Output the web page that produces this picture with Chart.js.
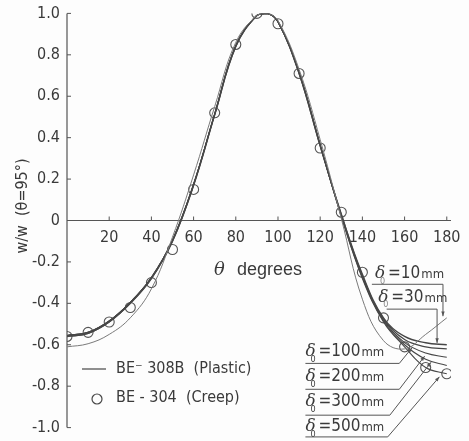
<!DOCTYPE html>
<html>
<head>
<meta charset="utf-8">
<script src="https://cdn.jsdelivr.net/npm/chart.js@4"></script>
<style>
  html, body { margin: 0; padding: 0; background: #fdfdfd; }
  #wrap { width: 469px; height: 441px; }
</style>
</head>
<body>
<div id="wrap"><canvas id="chart" width="469" height="441"></canvas></div>
<script>
// theta positions (degrees) for the plastic curves
const thetaLine = [0, 10, 20, 30, 40, 50, 60, 70, 80, 90, 95, 100, 110, 120, 130, 140, 150, 160, 170, 180];
// BE-308B (Plastic), one curve per delta0
const plastic10  = [-0.61, -0.595, -0.55, -0.47, -0.33, -0.08, 0.22, 0.55, 0.86, 0.99, 1.0, 0.965, 0.73, 0.39, 0.01, -0.38, -0.58, -0.62, -0.55, -0.47];
const plastic30  = [-0.56, -0.545, -0.49, -0.40, -0.28, -0.10, 0.17, 0.51, 0.84, 0.99, 1.0, 0.96, 0.71, 0.36, 0.03, -0.26, -0.47, -0.56, -0.59, -0.60];
const plastic100 = [-0.56, -0.545, -0.49, -0.40, -0.28, -0.10, 0.17, 0.51, 0.84, 0.99, 1.0, 0.96, 0.71, 0.36, 0.03, -0.265, -0.475, -0.575, -0.61, -0.62];
const plastic200 = [-0.555, -0.54, -0.485, -0.395, -0.275, -0.095, 0.175, 0.515, 0.845, 0.99, 1.0, 0.96, 0.715, 0.365, 0.025, -0.27, -0.48, -0.59, -0.64, -0.66];
const plastic300 = [-0.555, -0.54, -0.485, -0.395, -0.275, -0.095, 0.175, 0.515, 0.845, 0.99, 1.0, 0.96, 0.715, 0.365, 0.02, -0.275, -0.485, -0.60, -0.67, -0.70];
const plastic500 = [-0.555, -0.54, -0.485, -0.395, -0.275, -0.095, 0.175, 0.515, 0.845, 0.99, 1.0, 0.96, 0.715, 0.365, 0.02, -0.28, -0.49, -0.61, -0.71, -0.74];

// BE-304 (Creep) circles
const thetaCreep = [0, 10, 20, 30, 40, 50, 60, 70, 80, 90, 100, 110, 120, 130, 140, 150, 160, 170, 180];
const creep = [-0.56, -0.54, -0.49, -0.42, -0.30, -0.14, 0.15, 0.52, 0.85, 1.0, 0.95, 0.71, 0.35, 0.04, -0.25, -0.47, -0.61, -0.71, -0.74];

// axis ticks
const xTicks = [20, 40, 60, 80, 100, 120, 140, 160, 180];
const yTicks = [1.0, 0.8, 0.6, 0.4, 0.2, 0, -0.2, -0.4, -0.6, -0.8, -1.0];

// delta0 labels: text, text anchor [theta, value], leader path in data coords
const deltaLabels = [
  { mm: '10',  at: [146, -0.255], path: [[144.5, -0.308], [178.2, -0.308], [178.2, -0.462]], light: true },
  { mm: '30',  at: [147.5, -0.37], path: [[151.5, -0.428], [175.4, -0.428], [175.4, -0.591]], light: true },
  { mm: '100', at: [113, -0.635], path: [[113, -0.69], [157.5, -0.69], [163.5, -0.615]] },
  { mm: '200', at: [113, -0.755], path: [[113, -0.815], [157.5, -0.815], [169.5, -0.655]] },
  { mm: '300', at: [113, -0.875], path: [[113, -0.94], [153, -0.94], [172.5, -0.685]] },
  { mm: '500', at: [113, -0.995], path: [[113, -1.045], [152, -1.045], [176.5, -0.755]] }
];

const INK = '#474747';
const TEXT = '#3a3a3a';
const NARROW = '"Liberation Sans Narrow", "DejaVu Sans Condensed", "Liberation Sans", sans-serif';

function toXY(xs, ys) {
  return xs.map((x, i) => ({ x: x, y: ys[i] }));
}

function lineSet(label, ys, color, width) {
  return {
    label: label,
    data: toXY(thetaLine, ys),
    borderColor: color,
    borderWidth: width,
    pointRadius: 0,
    tension: 0.4,
    fill: false
  };
}

function arrowHead(ctx, x0, y0, x1, y1) {
  const a = Math.atan2(y1 - y0, x1 - x0);
  const s = 5;
  ctx.beginPath();
  ctx.moveTo(x1, y1);
  ctx.lineTo(x1 - s * Math.cos(a - 0.35), y1 - s * Math.sin(a - 0.35));
  ctx.lineTo(x1 - s * Math.cos(a + 0.35), y1 - s * Math.sin(a + 0.35));
  ctx.closePath();
  ctx.fill();
}

const decorPlugin = {
  id: 'decor',
  beforeDraw(chart) {
    const ctx = chart.ctx;
    ctx.save();
    ctx.fillStyle = '#fdfdfd';
    ctx.fillRect(0, 0, chart.width, chart.height);
    ctx.restore();
  },
  beforeDatasetsDraw(chart) {
    const { ctx, scales: { x, y }, chartArea } = chart;
    const x0 = x.getPixelForValue(0);
    const y0 = y.getPixelForValue(0);
    ctx.save();
    ctx.strokeStyle = '#555';
    ctx.lineWidth = 1.2;
    // axes
    ctx.beginPath();
    ctx.moveTo(x0, chartArea.top);
    ctx.lineTo(x0, chartArea.bottom);
    ctx.moveTo(x0, y0);
    ctx.lineTo(chartArea.right, y0);
    ctx.stroke();
    // inward tick marks
    ctx.lineWidth = 1;
    ctx.beginPath();
    yTicks.forEach(v => {
      const py = y.getPixelForValue(v);
      ctx.moveTo(x0, py);
      ctx.lineTo(x0 + 4, py);
    });
    xTicks.forEach(v => {
      const px = x.getPixelForValue(v);
      ctx.moveTo(px, y0);
      ctx.lineTo(px, y0 - 4);
    });
    ctx.stroke();
    ctx.restore();
  },
  afterDraw(chart) {
    const { ctx, scales: { x, y } } = chart;
    const P = (t, v) => [x.getPixelForValue(t), y.getPixelForValue(v)];
    ctx.save();
    ctx.fillStyle = TEXT;

    // y-axis title
    ctx.save();
    ctx.translate(23, 206);
    ctx.rotate(-Math.PI / 2);
    ctx.textAlign = 'center';
    ctx.textBaseline = 'middle';
    ctx.font = '16px ' + NARROW;
    ctx.fillText('w/w  (\u03B8=95\u00B0)', 0, 0);
    ctx.restore();

    // x-axis title
    ctx.textBaseline = 'middle';
    ctx.textAlign = 'left';
    ctx.font = 'italic 18px "DejaVu Serif", serif';
    ctx.fillText('\u03B8', 214, 270);
    ctx.font = '18px "Liberation Sans", sans-serif';
    ctx.fillText('degrees', 237, 270);

    // legend
    ctx.strokeStyle = INK;
    ctx.lineWidth = 1.2;
    ctx.beginPath();
    ctx.moveTo(82, 369);
    ctx.lineTo(106, 369);
    ctx.stroke();
    ctx.beginPath();
    ctx.arc(97, 399, 5, 0, Math.PI * 2);
    ctx.stroke();
    ctx.font = '16px ' + NARROW;
    ctx.fillText('BE\u207B 308B  (Plastic)', 116, 369);
    ctx.fillText('BE - 304  (Creep)', 116, 398);

    // delta0 labels with leader lines
    deltaLabels.forEach(d => {
      const [tx, ty] = P(d.at[0], d.at[1]);
      ctx.fillStyle = TEXT;
      ctx.font = 'italic 17px "DejaVu Serif", serif';
      ctx.fillText('\u03B4', tx, ty);
      ctx.font = '9px ' + NARROW;
      ctx.fillStyle = d.light ? '#888' : TEXT;
      ctx.fillText('0', tx + 5, ty + 8);
      ctx.fillStyle = TEXT;
      ctx.font = '17px ' + NARROW;
      const eq = '=' + d.mm;
      ctx.fillText(eq, tx + 13, ty);
      const w = ctx.measureText(eq).width;
      ctx.font = '13px ' + NARROW;
      ctx.fillText('mm', tx + 14 + w, ty + 1);

      ctx.strokeStyle = '#555';
      ctx.lineWidth = 1;
      ctx.beginPath();
      d.path.forEach((p, i) => {
        const [px, py] = P(p[0], p[1]);
        if (i === 0) ctx.moveTo(px, py); else ctx.lineTo(px, py);
      });
      ctx.stroke();
      const n = d.path.length;
      const a = P(d.path[n - 2][0], d.path[n - 2][1]);
      const b = P(d.path[n - 1][0], d.path[n - 1][1]);
      ctx.fillStyle = '#555';
      arrowHead(ctx, a[0], a[1], b[0], b[1]);
    });
    ctx.restore();
  }
};

document.addEventListener('DOMContentLoaded', function() {
  new Chart(document.getElementById('chart'), {
    type: 'line',
    data: {
      datasets: [
        lineSet('delta0=10mm', plastic10, '#7a7a7a', 1),
        lineSet('delta0=30mm', plastic30, INK, 1.4),
        lineSet('delta0=100mm', plastic100, INK, 1.2),
        lineSet('delta0=200mm', plastic200, INK, 1.1),
        lineSet('delta0=300mm', plastic300, INK, 1.1),
        lineSet('delta0=500mm', plastic500, INK, 1.1),
        {
          label: 'BE-304 (Creep)',
          data: toXY(thetaCreep, creep),
          showLine: false,
          pointRadius: 5,
          pointBorderColor: '#555',
          pointBorderWidth: 1.1,
          pointBackgroundColor: 'rgba(0,0,0,0)'
        }
      ]
    },
    options: {
      responsive: false,
      animation: false,
      layout: { padding: { top: 9, bottom: 5, left: 0, right: 18 } },
      plugins: {
        legend: { display: false },
        tooltip: { enabled: false }
      },
      scales: {
        x: {
          type: 'linear',
          position: { y: 0 },
          min: 0,
          max: 182,
          grid: { display: false, drawTicks: false },
          border: { display: false },
          afterBuildTicks: s => { s.ticks = xTicks.map(v => ({ value: v })); },
          ticks: {
            padding: 8,
            color: TEXT,
            font: { size: 16, family: NARROW },
            maxRotation: 0
          }
        },
        y: {
          type: 'linear',
          min: -1,
          max: 1,
          afterFit: s => { s.width = 67; },
          grid: { display: false, drawTicks: false },
          border: { display: false },
          afterBuildTicks: s => { s.ticks = yTicks.map(v => ({ value: v })); },
          ticks: {
            padding: 7,
            color: TEXT,
            font: { size: 16, family: NARROW, lineHeight: 0.8 },
            callback: v => (v === 0 ? '0' : v.toFixed(1))
          }
        }
      }
    },
    plugins: [decorPlugin]
  });
});
</script>
</body>
</html>
